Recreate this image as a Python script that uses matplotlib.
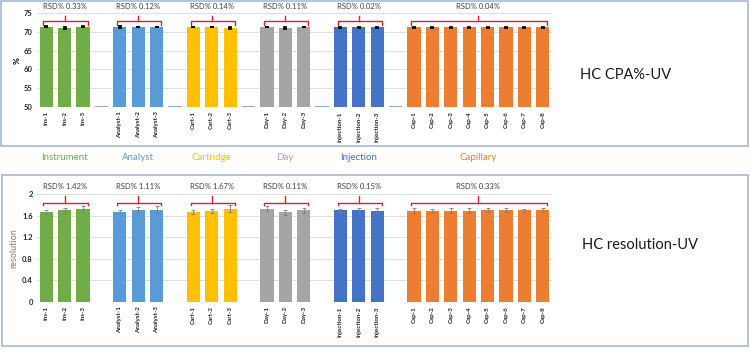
import matplotlib
matplotlib.use('Agg')
import matplotlib.pyplot as plt
from matplotlib.patches import Rectangle

plt.rcParams['font.family'] = ['Lato', 'DejaVu Sans']

# groups and bar labels
groups = ['Instrument', 'Analyst', 'Cartridge', 'Day', 'Injection', 'Capillary']
group_colors = ['#70ad47', '#5b9bd5', '#ffc000', '#a5a5a5', '#4472c4', '#ed7d31']
bar_labels = [
    ['Ins-1', 'Ins-2', 'Ins-3'],
    ['Analyst-1', 'Analyst-2', 'Analyst-3'],
    ['Cart-1', 'Cart-2', 'Cart-3'],
    ['Day-1', 'Day-2', 'Day-3'],
    ['Injection-1', 'Injection-2', 'Injection-3'],
    ['Cap-1', 'Cap-2', 'Cap-3', 'Cap-4', 'Cap-5', 'Cap-6', 'Cap-7', 'Cap-8'],
]

# CPA% (top chart)
cpa_vals = [
    [71.4, 71.0, 71.4],
    [71.2, 71.3, 71.3],
    [71.3, 71.3, 71.0],
    [71.3, 71.1, 71.3],
    [71.2, 71.2, 71.2],
    [71.2, 71.2, 71.2, 71.2, 71.2, 71.2, 71.2, 71.2],
]
cpa_err = [
    [0.1, 0.25, 0.12],
    [0.3, 0.1, 0.1],
    [0.1, 0.1, 0.3],
    [0.1, 0.3, 0.1],
    [0.1, 0.1, 0.1],
    [0.1, 0.1, 0.1, 0.1, 0.1, 0.1, 0.1, 0.1],
]
cpa_rsd = ['0.33', '0.12', '0.14', '0.11', '0.02', '0.04']

# resolution (bottom chart)
res_vals = [
    [1.67, 1.70, 1.72],
    [1.67, 1.71, 1.71],
    [1.67, 1.69, 1.73],
    [1.73, 1.66, 1.70],
    [1.70, 1.70, 1.69],
    [1.69, 1.69, 1.69, 1.69, 1.70, 1.70, 1.70, 1.71],
]
res_err = [
    [0.04, 0.05, 0.05],
    [0.03, 0.05, 0.06],
    [0.04, 0.04, 0.06],
    [0.04, 0.04, 0.05],
    [0.03, 0.05, 0.05],
    [0.05, 0.04, 0.05, 0.05, 0.04, 0.04, 0.03, 0.03],
]
res_rsd = ['1.42', '1.11', '1.67', '0.11', '0.15', '0.33']

# positions with a blank slot between groups
positions = []
gaps = []
p = 0
for labs in bar_labels:
    positions.append(list(range(p, p + len(labs))))
    p += len(labs)
    gaps.append(p)
    p += 1
gaps = gaps[:-1]
n_slots = p - 1


def draw(ax, vals, errs, rsd, ylim, step, ylab, bracket, ecol, elw, top_gap):
    for i in range(len(groups)):
        ax.bar(positions[i], vals[i], width=0.72, color=group_colors[i],
               bottom=0 if ylim[0] == 0 else 0, zorder=2)
        ax.errorbar(positions[i], vals[i], yerr=errs[i], fmt='none',
                    ecolor=ecol, elinewidth=elw, capsize=1.5, capthick=elw, zorder=3)
        x0 = positions[i][0] - 0.15
        x1 = positions[i][-1] + 0.25
        xm = (positions[i][0] + positions[i][-1]) / 2
        yb, ye, yt, ytx = bracket
        ax.plot([x0, x0, x1, x1], [ye, yb, yb, ye], color='#e02020', lw=1.0,
                clip_on=False, zorder=4)
        ax.plot([xm, xm], [yb, yt], color='#e02020', lw=1.0, clip_on=False, zorder=4)
        ax.text(xm, ytx, 'RSD% ' + rsd[i] + '%', ha='center', va='center',
                fontsize=5.5, color='#404040')
    if top_gap:
        ax.bar(gaps, [0.25] * len(gaps), bottom=ylim[0], width=0.72,
               color='#8faadc', zorder=2)
    ax.set_ylim(*ylim)
    ax.set_xlim(-0.5, n_slots - 0.5)
    ticks = []
    labels = []
    for i in range(len(groups)):
        ticks += positions[i]
        labels += bar_labels[i]
    ax.set_xticks(ticks)
    ax.set_xticklabels(labels, rotation=90, fontsize=4.5, fontweight='bold', color='#262626')
    yt_ = []
    v = ylim[0]
    while v <= ylim[1] + 1e-9:
        yt_.append(round(v, 2))
        v += step
    ax.set_yticks(yt_)
    ax.set_yticklabels([('%g' % t) for t in yt_], fontsize=5.5, fontweight='bold',
                       color='#262626')
    ax.tick_params(length=0, pad=3)
    ax.grid(axis='y', color='#d9d9d9', lw=0.6, zorder=0)
    for s in ax.spines.values():
        s.set_visible(False)
    ax.set_facecolor('none')


fig = plt.figure(figsize=(7.5, 3.52), dpi=100)

# panel borders
fig.patches.append(Rectangle((1 / 750, 1 - 146 / 352), 747 / 750, 145 / 352,
                             transform=fig.transFigure, fill=False,
                             edgecolor='#a6b9dc', lw=1.2))
fig.patches.append(Rectangle((2 / 750, 1 - 346 / 352), 746 / 750, 171 / 352,
                             transform=fig.transFigure, fill=False,
                             edgecolor='#a6b9dc', lw=1.2))

ax1 = fig.add_axes([37 / 750, 1 - 107 / 352, 515 / 750, 94 / 352])
draw(ax1, cpa_vals, cpa_err, cpa_rsd, (50, 75), 5, '%',
     (72.8, 71.9, 74.3, 76.6), 'black', 1.2, True)
ax1.set_ylabel('%', fontsize=6, fontweight='bold', labelpad=2)

ax2 = fig.add_axes([37 / 750, 1 - 302 / 352, 515 / 750, 108 / 352])
draw(ax2, res_vals, res_err, res_rsd, (0, 2), 0.4, 'resolution',
     (1.83, 1.795, 1.96, 2.13), '#7f7f7f', 0.6, False)
ax2.set_ylabel('resolution', fontsize=6.5, color='#7f7f7f', labelpad=3)

# group names between the panels
for i in range(len(groups)):
    xm = (positions[i][0] + positions[i][-1]) / 2
    xf = (37 + (xm + 0.5) * 515 / n_slots) / 750
    fig.text(xf, 1 - 158 / 352, groups[i], ha='center', va='center',
             fontsize=7, color=group_colors[i])

fig.text(626 / 750, 1 - 75 / 352, 'HC CPA%-UV', ha='center', va='center',
         fontsize=10.5, color='#1a1a1a')
fig.text(640 / 750, 1 - 245 / 352, 'HC resolution-UV', ha='center', va='center',
         fontsize=10.5, color='#1a1a1a')

fig.savefig('out.png', dpi=100)
